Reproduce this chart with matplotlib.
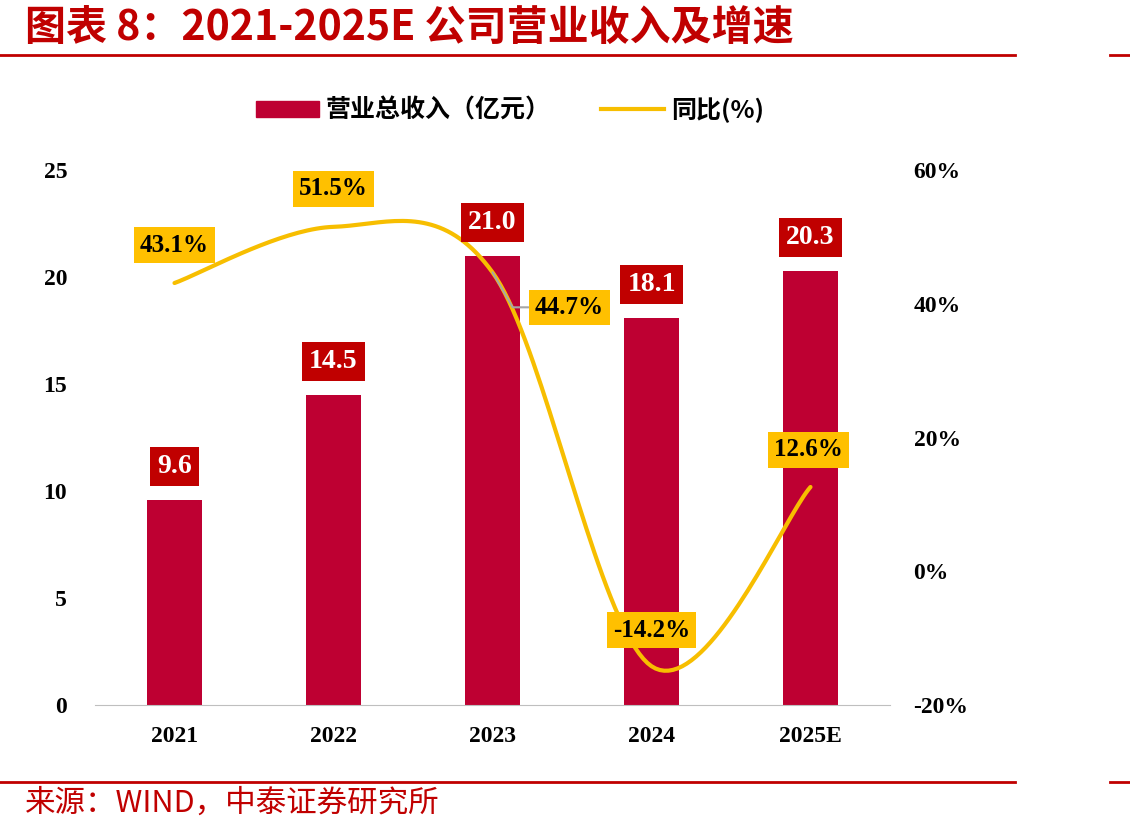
import numpy as np
import matplotlib
matplotlib.use("Agg")
import matplotlib.pyplot as plt
from matplotlib.lines import Line2D
from matplotlib.patches import Patch

# data
years = ['2021', '2022', '2023', '2024', '2025E']
revenue = [9.6, 14.5, 21.0, 18.1, 20.3]          # 亿元
growth = [43.1, 51.5, 44.7, -14.2, 12.6]          # %

CJK = ['Noto Sans CJK SC', 'DejaVu Sans']
SERIF = 'Liberation Serif'
bar_color = '#BE0032'
box_red = '#C00000'
line_color = '#F7BE00'
title_red = '#C00000'

fig = plt.figure(figsize=(11.3, 8.34), dpi=100)
ax = fig.add_axes([95 / 1130, 1 - 705 / 834, 795 / 1130, 535 / 834])
ax2 = ax.twinx()

x = np.arange(len(years))
ax.bar(x, revenue, width=0.34, color=bar_color, zorder=2)
ax.set_xlim(-0.5, 4.5)
ax.set_ylim(0, 25)
ax.set_yticks([0, 5, 10, 15, 20, 25])
ax.set_xticks(x)
ax.set_xticklabels(years, fontfamily=SERIF, fontweight='bold', fontsize=17)
for lab in ax.get_yticklabels():
    lab.set_fontfamily(SERIF)
    lab.set_fontweight('bold')
    lab.set_fontsize(17)
ax.tick_params(axis='y', length=0, pad=20)
ax.tick_params(axis='x', length=0, pad=15)
for s in ['top', 'right', 'left']:
    ax.spines[s].set_visible(False)
ax.spines['bottom'].set_color('#BFBFBF')

# smoothed line (Excel-style bezier through the points)
px = x.astype(float)
py = np.array(growth, dtype=float)
cx, cy = [], []
t = np.linspace(0, 1, 40)
n = len(px)
for i in range(n - 1):
    i0, i3 = max(i - 1, 0), min(i + 2, n - 1)
    p0 = np.array([px[i], py[i]])
    p1 = np.array([px[i + 1], py[i + 1]])
    b1 = p0 + (np.array([px[i + 1], py[i + 1]]) - np.array([px[i0], py[i0]])) / 6
    b2 = p1 - (np.array([px[i3], py[i3]]) - np.array([px[i], py[i]])) / 6
    seg = ((1 - t) ** 3)[:, None] * p0 + (3 * (1 - t) ** 2 * t)[:, None] * b1 \
        + (3 * (1 - t) * t ** 2)[:, None] * b2 + (t ** 3)[:, None] * p1
    cx.extend(seg[:, 0])
    cy.extend(seg[:, 1])
ax2.plot(cx, cy, color=line_color, lw=3, zorder=3, solid_capstyle='round')
ax2.set_ylim(-20, 60)
ax2.set_yticks([-20, 0, 20, 40, 60])
ax2.set_yticklabels([f'{v}%' for v in [-20, 0, 20, 40, 60]], fontfamily=SERIF,
                    fontweight='bold', fontsize=17)
ax2.tick_params(axis='y', length=0, pad=17)
for s in ['top', 'right', 'left', 'bottom']:
    ax2.spines[s].set_visible(False)

# bar labels
for xi, v in zip(x, revenue):
    ax2.annotate(f'{v:.1f}', xy=(xi, v / 25), xycoords=ax.get_xaxis_transform(),
                 xytext=(0, 33), textcoords='offset pixels',
                 ha='center', va='center', color='white', fontfamily=SERIF,
                 fontweight='bold', fontsize=20, zorder=6,
                 bbox=dict(boxstyle='square,pad=0.25', fc=box_red, ec='none'))

# growth labels
offsets = [(0, 38), (0, 38), (77, -35), (0, 36), (-2, 37)]
for i, (xi, v, off) in enumerate(zip(x, growth, offsets)):
    arrow = None
    if i == 2:
        arrow = dict(arrowstyle='-', color='#A6A6A6', lw=1.5, shrinkA=0, shrinkB=0,
                     connectionstyle='angle,angleA=0,angleB=-60,rad=0')
    ax2.annotate(f'{v:.1f}%', xy=(xi, v), xytext=off, textcoords='offset pixels',
                 ha='center', va='center', color='black', fontfamily=SERIF,
                 fontweight='bold', fontsize=18, zorder=7, arrowprops=arrow,
                 bbox=dict(boxstyle='square,pad=0.25', fc='#FFC000', ec='none'))

# legend
handles = [Patch(color=bar_color, label='营业总收入（亿元）'),
           Line2D([0], [0], color=line_color, lw=3, label='同比(%)')]
fig.legend(handles=handles, loc='center', bbox_to_anchor=(510 / 1130, 1 - 110 / 834),
           ncol=2, frameon=False, prop=dict(family=CJK, weight='bold', size=18),
           handlelength=2.5, handleheight=0.65, columnspacing=2.0, handletextpad=0.3)

# title, rules and source
fig.text(25 / 1130, 1 - 28 / 834, '图表 8：2021-2025E 公司营业收入及增速', family=CJK,
         fontweight='bold', style='italic', fontsize=29.5, color=title_red, va='center', ha='left')
for yy in [55, 782]:
    fig.add_artist(Line2D([0, 1015 / 1130], [1 - yy / 834] * 2, color=title_red, lw=2))
    fig.add_artist(Line2D([1110 / 1130, 1], [1 - yy / 834] * 2, color=title_red, lw=2))
fig.text(25 / 1130, 1 - 803 / 834, '来源：WIND，中泰证券研究所', family=CJK,
         fontsize=22, color=title_red, va='center', ha='left')

fig.savefig('out.png', dpi=100)
